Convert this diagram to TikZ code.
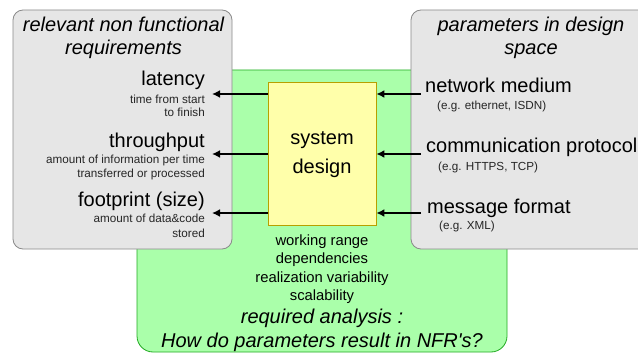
\documentclass[tikz,border=0pt]{standalone}
\usepackage{fontspec}
\setmainfont{Liberation Sans}[Ligatures=TeXOff]
\usetikzlibrary{arrows.meta}
\definecolor{greyfill}{HTML}{E6E6E6}
\definecolor{greyline}{HTML}{8A8A8A}
\definecolor{greenfill}{HTML}{AAFFAA}
\definecolor{greenline}{HTML}{22AA22}
\definecolor{yellowfill}{HTML}{FFFFAA}
\definecolor{yellowline}{HTML}{B8A000}
\tikzset{
  panel/.style={draw=greyline, fill=greyfill, line width=0.8pt, rounded corners=10pt},
  big/.style={font=\fontsize{20}{22}\selectfont, inner sep=0pt},
  bigit/.style={font=\fontsize{20}{22}\selectfont\itshape, inner sep=0pt},
  small/.style={font=\fontsize{11.7}{13}\selectfont, inner sep=0pt, text=black!85},
  mid/.style={font=\fontsize{14.8}{17}\selectfont, inner sep=0pt},
  conn/.style={line width=2pt, -{Latex[length=8pt,width=8pt]}},
}
\begin{document}
\begin{tikzpicture}[x=1pt,y=-1pt]
\clip (0,0) rectangle (638,353);
\fill[white] (0,0) rectangle (638,353);
% green region
\draw[draw=greenline, fill=greenfill, line width=0.8pt, rounded corners=16pt]
  (137,70) rectangle (507,352);
% grey panels
\draw[panel] (13,10) rectangle (232,249);
\draw[panel] (411,10) rectangle (670,249);
% system design box
\node[draw=yellowline, fill=yellowfill, line width=0.8pt, minimum width=108pt, minimum height=143pt, inner sep=0pt] (sys) at (322,153.5) {};
\node[big, anchor=base] (sys1) at (322,145) {system};
\node[big, anchor=base] (sys2) at (322,173) {design};
% left titles
\node[bigit, anchor=base] (lt1) at (123.5,32) {relevant non functional};
\node[bigit, anchor=base] (lt2) at (123.5,55) {requirements};
\node[big, anchor=base east] (lat) at (205,86) {latency};
\node[small, anchor=base east] (lat1) at (205,103) {time from start};
\node[small, anchor=base east] (lat2) at (205,117) {to finish};
\node[big, anchor=base east] (thr) at (205,147) {throughput};
\node[small, anchor=base east] (thr1) at (205,163) {amount of information per time};
\node[small, anchor=base east] (thr2) at (205,177) {transferred or processed};
\node[big, anchor=base east] (foot) at (205,206) {footprint (size)};
\node[small, anchor=base east] (foot1) at (205,222) {amount of data\&code};
\node[small, anchor=base east] (foot2) at (205,237) {stored};
% right titles
\node[bigit, anchor=base] (rt1) at (531,32) {parameters in design};
\node[bigit, anchor=base] (rt2) at (531,55) {space};
\node[big, anchor=base west] (net) at (425,93) {network medium};
\node[small, anchor=base west] (net1) at (437,110) {(e.g. ethernet, ISDN)};
\node[big, anchor=base west] (com) at (426,153) {communication protocol};
\node[small, anchor=base west] (com1) at (438,170) {(e.g. HTTPS, TCP)};
\node[big, anchor=base west] (msg) at (427,213) {message format};
\node[small, anchor=base west] (msg1) at (439,229) {(e.g. XML)};
% bottom texts
\node[mid, anchor=base] (b1) at (322,245) {working range};
\node[mid, anchor=base] (b2) at (322,263) {dependencies};
\node[mid, anchor=base] (b3) at (322,282) {realization variability};
\node[mid, anchor=base] (b4) at (322,300) {scalability};
\node[bigit, anchor=base] (b5) at (322,323) {required analysis :};
\node[bigit, anchor=base] (b6) at (322,347) {How do parameters result in NFR's?};
% arrow end points
\coordinate (eLat) at (212,94);
\coordinate (eThr) at (212,154);
\coordinate (eFoot) at (212,213);
\coordinate (sNet) at (421,94);
\coordinate (sCom) at (421,154);
\coordinate (sMsg) at (421,213);
\draw[conn] (sys.west |- eLat) -- (eLat);
\draw[conn] (sys.west |- eThr) -- (eThr);
\draw[conn] (sys.west |- eFoot) -- (eFoot);
\draw[conn] (sNet) -- (sys.east |- sNet);
\draw[conn] (sCom) -- (sys.east |- sCom);
\draw[conn] (sMsg) -- (sys.east |- sMsg);
\end{tikzpicture}
\end{document}
